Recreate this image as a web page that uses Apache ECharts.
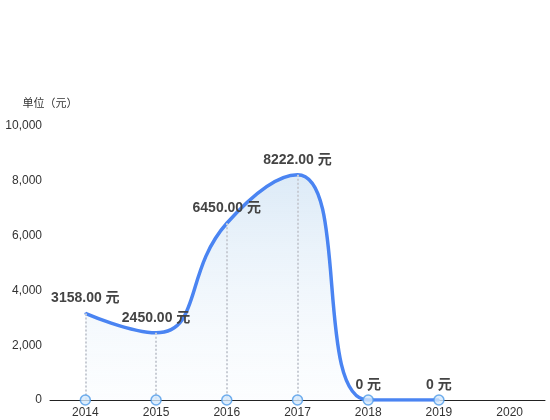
<!DOCTYPE html>
<html lang="zh">
<head>
    <meta charset="UTF-8">
    <title>Chart</title>
    <style>
        html, body { margin: 0; padding: 0; background: #fff; }
        #main { width: 550px; height: 420px; }
    </style>
</head>
<body>
    <div id="main"></div>
    <script src="https://cdn.jsdelivr.net/npm/echarts@6/dist/echarts.min.js"></script>
    <script>
        // 数据
        const years = ['2014', '2015', '2016', '2017', '2018', '2019', '2020'];
        const amounts = [3158, 2450, 6450, 8222, 0, 0];
        const yTicks = { min: 0, max: 10000, interval: 2000 };

        const chart = echarts.init(document.getElementById('main'));

        // 每个点往下画一条虚线
        const dropLines = amounts.map((v, i) => [
            { coord: [years[i], v] },
            { coord: [years[i], 0] }
        ]);

        chart.setOption({
            textStyle: { fontFamily: 'Helvetica, Arial, "Noto Sans CJK SC", sans-serif' },
            grid: { left: 50, right: 5, top: 126, bottom: 20 },
            xAxis: {
                type: 'category',
                data: years,
                axisLine: { lineStyle: { color: '#222', width: 1 } },
                axisTick: { show: false },
                axisLabel: { color: '#333', fontSize: 12, margin: 7 }
            },
            yAxis: {
                type: 'value',
                min: yTicks.min,
                max: yTicks.max,
                interval: yTicks.interval,
                name: '单位（元）',
                nameTextStyle: { color: '#333', fontSize: 11, align: 'center' },
                nameGap: 17,
                axisLine: { show: false },
                axisTick: { show: false },
                splitLine: { show: false },
                axisLabel: { color: '#333', fontSize: 12, margin: 8 }
            },
            series: [
                {
                    type: 'line',
                    data: amounts,
                    smooth: true,
                    symbol: 'circle',
                    symbolSize: 2,
                    showSymbol: true,
                    itemStyle: { color: '#4a84f2', borderWidth: 0 },
                    lineStyle: { color: '#4a84f2', width: 3.5 },
                    areaStyle: {
                        color: new echarts.graphic.LinearGradient(0, 0, 0, 1, [
                            { offset: 0, color: 'rgba(200,222,242,0.9)' },
                            { offset: 1, color: 'rgba(240,247,253,0.3)' }
                        ])
                    },
                    label: {
                        show: true,
                        position: 'top',
                        distance: 7,
                        color: '#444',
                        fontSize: 14,
                        fontWeight: 'bold',
                        formatter: p => (p.value ? p.value.toFixed(2) : '0') + ' 元'
                    },
                    markLine: {
                        silent: true,
                        symbol: 'none',
                        label: { show: false },
                        lineStyle: { color: '#c8ccd4', type: 'dotted', width: 2 },
                        data: dropLines
                    },
                    z: 2
                },
                {
                    type: 'scatter',
                    data: amounts.map(() => 0),
                    symbol: 'circle',
                    symbolSize: 10,
                    itemStyle: { color: '#d4e8fb', borderColor: '#4f9be8', borderWidth: 1.5 },
                    z: 5
                }
            ]
        });
    </script>
</body>
</html>
